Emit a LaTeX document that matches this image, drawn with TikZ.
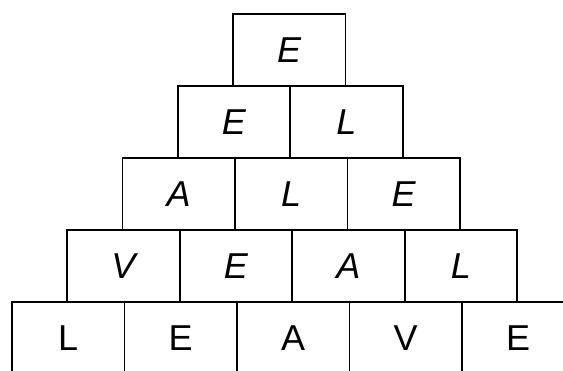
\documentclass[tikz,border=0pt]{standalone}
\usepackage{fontspec}
\setsansfont{Liberation Sans}

\begin{document}
\begin{tikzpicture}[x=1pt, y=-1pt, line width=1.9pt,
  brick/.style={draw, minimum width=112.5pt, minimum height=72pt, inner sep=0pt,
    font=\sffamily\fontsize{36}{36}\selectfont},
  slant/.style={font=\sffamily\itshape\fontsize{36}{36}\selectfont},
  upright/.style={}]
  % Frame of the picture
  \useasboundingbox (0,0) rectangle (563,370);
  \clip (0,0) rectangle (563,370);
  % ---- Rows of bricks, top to bottom ----
  \foreach \row/\letters/\sty in {1/{E}/slant, 2/{E,L}/slant, 3/{A,L,E}/slant,
      4/{V,E,A,L}/slant, 5/{L,E,A,V,E}/upright} {
    \foreach \ch [count=\c] in \letters {
      \node[brick, \sty] (r\row c\c)
        at ({233-(\row-1)*55.25+(\c-0.5)*112.5}, {50+(\row-1)*72}) {\ch};
    }
  }
\end{tikzpicture}
\end{document}
